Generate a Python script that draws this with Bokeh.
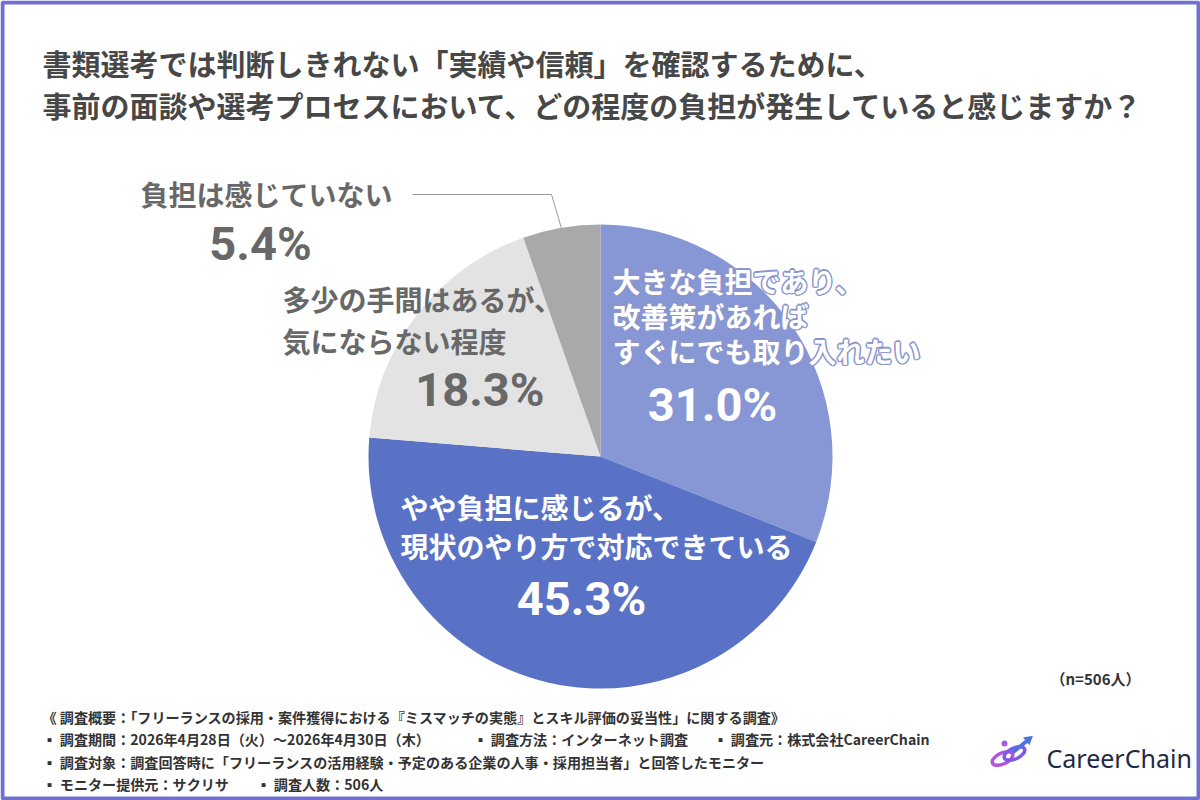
import math
from bokeh.plotting import figure
from bokeh.models import Range1d
from bokeh.core.properties import value
from bokeh.embed import file_html
from bokeh.resources import INLINE

# ---------------- data ----------------
categories = [
    "大きな負担であり、改善策があればすぐにでも取り入れたい",
    "やや負担に感じるが、現状のやり方で対応できている",
    "多少の手間はあるが、気にならない程度",
    "負担は感じていない",
]
values = [31.0, 45.3, 18.3, 5.4]
colors = ["#8797D5", "#5A72C6", "#E3E3E3", "#A9A9A9"]

label_lines = [
    ["大きな負担であり、", "改善策があれば", "すぐにでも取り入れたい"],
    ["やや負担に感じるが、", "現状のやり方で対応できている"],
    ["多少の手間はあるが、", "気にならない程度"],
    ["負担は感じていない"],
]

title_lines = [
    "書類選考では判断しきれない「実績や信頼」を確認するために、",
    "事前の面談や選考プロセスにおいて、どの程度の負担が発生していると感じますか？",
]
n_note = "（n=506人）"
footer_lines = [
    "《 調査概要：「フリーランスの採用・案件獲得における『ミスマッチの実態』とスキル評価の妥当性」に関する調査》",
    "▪ 調査期間：2026年4月28日（火）～2026年4月30日（木）",
    "▪ 調査方法：インターネット調査",
    "▪ 調査元：株式会社CareerChain",
    "▪ 調査対象：調査回答時に「フリーランスの活用経験・予定のある企業の人事・採用担当者」と回答したモニター",
    "▪ モニター提供元：サクリサ",
    "▪ 調査人数：506人",
]
brand = "CareerChain"

# ---------------- figure ----------------
W, H = 1200, 800
JP = "Noto Sans CJK JP"
NUM = "Roboto"

p = figure(width=W, height=H, x_range=Range1d(0, W), y_range=Range1d(0, H),
           output_backend="svg", toolbar_location=None,
           x_axis_location=None, y_axis_location=None, min_border=0)
p.grid.visible = False
p.outline_line_color = None
p.background_fill_color = "white"
p.border_fill_color = "white"


def Y(y):
    return H - y


def txt(x, y, s, size, color, font=JP, bold=True, align="left", baseline="middle"):
    p.text(x=[x], y=[Y(y)], text=[s], text_font=value(font), text_font_size=f"{size}px",
           text_font_style="bold" if bold else "normal", text_color=color,
           text_align=align, text_baseline=baseline)


# frame
p.quad(left=[2], right=[W - 2], bottom=[2], top=[H - 2], fill_color=None,
       line_color="#7170D0", line_width=4)

# title
txt(42, 62, title_lines[0], 29, "#474747")
txt(42, 104, title_lines[1], 29, "#474747")

# ---------------- pie ----------------
cx, cy, r = 600, 456, 232
total = sum(values)
starts, ends, mids = [], [], []
acc = 0.0
for v in values:
    a0 = math.pi / 2 - 2 * math.pi * acc / total
    acc += v
    a1 = math.pi / 2 - 2 * math.pi * acc / total
    starts.append(a0)
    ends.append(a1)
    mids.append((a0 + a1) / 2)

p.wedge(x=[cx] * len(values), y=[Y(cy)] * len(values), radius=r,
        start_angle=starts, end_angle=ends, direction="clock",
        fill_color=colors, line_color=None)

# labels
GRAY = "#686868"
PS = 47
# slice 0 (white with outline)
lines0 = label_lines[0]
ys0 = [280, 315, 350]
for dx, dy in [(-1.4, 0), (1.4, 0), (0, -1.4), (0, 1.4), (-1, -1), (1, 1), (-1, 1), (1, -1)]:
    for s, yy in zip(lines0, ys0):
        txt(612 + dx, yy + dy, s, 28, "#8A96CC")
for s, yy in zip(lines0, ys0):
    txt(612, yy, s, 28, "white")
txt(712, 404, f"{values[0]:.1f}%", PS, "white", font=NUM, align="center")

# slice 1
txt(400, 506, label_lines[1][0], 28, "white")
txt(400, 545, label_lines[1][1], 28, "white")
txt(581, 598, f"{values[1]:.1f}%", PS, "white", font=NUM, align="center")

# slice 2
txt(282, 298, label_lines[2][0], 28, GRAY)
txt(282, 340, label_lines[2][1], 28, GRAY)
txt(544, 389, f"{values[2]:.1f}%", PS, GRAY, font=NUM, align="right")

# slice 3 with leader line
txt(140, 193, label_lines[3][0], 28, GRAY)
txt(260, 243, f"{values[3]:.1f}%", PS, GRAY, font=NUM, align="center")
ex = cx + r * math.cos(mids[3])
ey = cy - r * math.sin(mids[3])
p.line(x=[412, 551, ex], y=[Y(194), Y(194), Y(ey)], line_color="#9A9A9A", line_width=1)

# n note
txt(1140, 678, n_note, 15, "#333333", align="right")

# footer
FC = "#333333"
FS = 14.1
txt(42, 716, footer_lines[0], FS, FC)
txt(42, 738, footer_lines[1], FS, FC)
txt(473, 738, footer_lines[2], FS, FC)
txt(713, 738, footer_lines[3], FS, FC)
txt(42, 761, footer_lines[4], FS, FC)
txt(42, 783, footer_lines[5], FS, FC)
txt(256, 783, footer_lines[6], FS, FC)

# logo icon (approximation)
p.ellipse(x=[1002], y=[Y(758)], width=22, height=11, angle=math.radians(25),
          fill_color=None, line_color="#B352E0", line_width=3.5)
p.ellipse(x=[1014], y=[Y(753)], width=22, height=11, angle=math.radians(25),
          fill_color=None, line_color="#7A5BE3", line_width=3.5)
p.line(x=[1012, 1027], y=[Y(752), Y(740)], line_color="#4F72E3", line_width=4)
p.scatter(x=[1028], y=[Y(739)], marker="triangle", size=10, angle=math.radians(-50),
          fill_color="#4F72E3", line_color=None)
p.scatter(x=[1004], y=[Y(743)], marker="circle", size=6, fill_color="#A35BE6", line_color=None)

txt(1046, 757, brand, 25, "#1E2A45", font="Noto Sans", bold=False)

open("out.html", "w").write(file_html(p, INLINE))
